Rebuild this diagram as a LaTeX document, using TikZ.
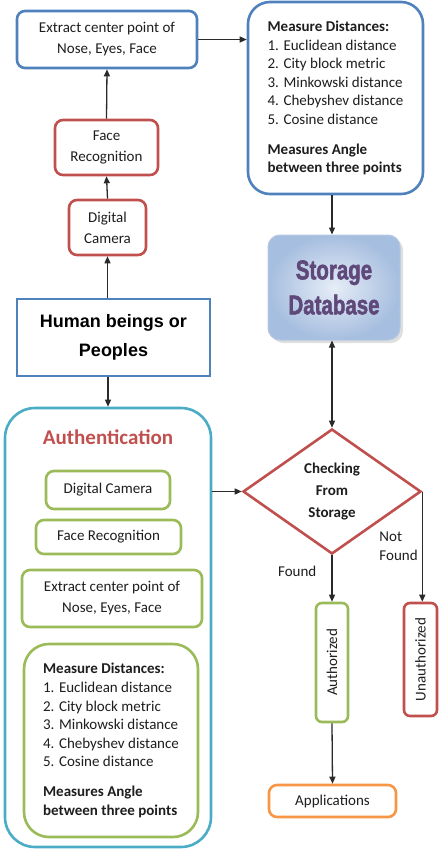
\documentclass[tikz,border=0pt]{standalone}
\usepackage{fontspec}
\setmainfont{Carlito}
\newfontfamily\arialfont{Liberation Sans}
\newfontfamily\dbfont[FakeBold=2.2]{Liberation Sans}
\usetikzlibrary{arrows.meta,shapes.geometric,shadows}

\definecolor{oblue}{HTML}{4F81BD}
\definecolor{ored}{HTML}{C0504D}
\definecolor{ogreen}{HTML}{9BBB59}
\definecolor{oteal}{HTML}{4BACC6}
\definecolor{oorange}{HTML}{F79646}
\definecolor{dbtext}{HTML}{5F497A}
\definecolor{dbedge}{HTML}{B4C8E2}
\definecolor{dbin}{HTML}{E6EDF7}
\definecolor{dbout}{HTML}{A6BEDF}
\definecolor{txt}{HTML}{1E1E1E}
\definecolor{wire}{HTML}{2A2A2A}

\tikzset{
  box/.style={draw, line width=2.6pt, rounded corners=8pt, align=center,
    inner sep=0pt, text=txt, fill=white},
  body/.style={font=\fontsize{15}{21}\selectfont},
  listtext/.style={font=\fontsize{15}{18.6}\selectfont, align=left},
  tip/.tip={Triangle[length=7pt,width=6pt]},
  arr/.style={-tip, line width=1.3pt, draw=wire},
  biarr/.style={tip-tip, line width=1.3pt, draw=wire},
  lbl/.style={font=\fontsize{15}{19}\selectfont, text=txt, inner sep=0pt},
}

\begin{document}
\begin{tikzpicture}[x=1pt,y=-1pt]
\useasboundingbox (0,0) rectangle (439,851);

% enrolment chain
\node[box, draw=oblue, minimum width=180pt, minimum height=57pt, body] (ext) at (107,39.5)
  {Extract center point of\\Nose, Eyes, Face};
\node[box, draw=ored, minimum width=103pt, minimum height=55pt, body] (fr) at (106.5,147.5)
  {Face\\Recognition};
\node[box, draw=ored, minimum width=77pt, minimum height=55pt, body] (dc) at (107.5,227.5)
  {Digital\\Camera};
\node[box, draw=oblue, rounded corners=22pt, minimum width=175pt, minimum height=192pt,
  listtext] (meas) at (335.5,98)
  {\textbf{Measure Distances:}\\1. Euclidean distance\\2. City block metric\\
   3. Minkowski distance\\4. Chebyshev distance\\5. Cosine distance\\[11pt]
   \textbf{Measures Angle}\\\textbf{between three points}};

% database
\node[draw=dbedge, line width=1pt, rounded corners=12pt, minimum width=132pt,
  minimum height=105pt, inner color=dbin, outer color=dbout,
  drop shadow={shadow xshift=3pt, shadow yshift=-3pt, fill=gray!50},
  align=center, text=dbtext,
  font=\dbfont\bfseries\fontsize{25}{35}\selectfont] (db) at (334,287.5)
  {\scalebox{0.82}[1.08]{Storage}\\\scalebox{0.82}[1.08]{Database}};

% people
\node[draw=oblue, line width=2.6pt, fill=white, minimum width=193pt, minimum height=77pt,
  align=center, text=black, font=\arialfont\bfseries\fontsize{18}{29.5}\selectfont]
  (hum) at (113.5,337.5) {Human beings or\\Peoples};

% authentication panel
\node[draw=oteal, line width=2.6pt, rounded corners=30pt, minimum width=206pt,
  minimum height=439pt] (auth) at (108,627.5) {};
\node[text=ored, font=\bfseries\fontsize{21}{25}\selectfont] (authtitle) at (108,437)
  {Authentication};
\node[box, draw=ogreen, minimum width=124pt, minimum height=38pt, body] (gdc) at (108,490)
  {Digital Camera};
\node[box, draw=ogreen, minimum width=145pt, minimum height=34pt, body] (gfr) at (108.5,537)
  {Face Recognition};
\node[box, draw=ogreen, minimum width=180pt, minimum height=57pt, body] (gext) at (112,598.5)
  {Extract center point of\\Nose, Eyes, Face};
\node[box, draw=ogreen, rounded corners=25pt, minimum width=174pt, minimum height=193pt,
  listtext] (gmeas) at (111,740.5)
  {\textbf{Measure Distances:}\\1. Euclidean distance\\2. City block metric\\
   3. Minkowski distance\\4. Chebyshev distance\\5. Cosine distance\\[11pt]
   \textbf{Measures Angle}\\\textbf{between three points}};

% decision and outcomes
\node[draw=ored, line width=2.6pt, fill=white, diamond, aspect=1.4, inner sep=0pt,
  minimum width=178pt, minimum height=125pt, align=center, text=txt,
  font=\bfseries\fontsize{15}{22}\selectfont] (chk) at (332,491.5)
  {Checking\\From\\Storage};
\node[box, draw=ogreen, rounded corners=6pt, rotate=90, minimum width=119pt,
  minimum height=32pt, body] (authz) at (332,662.5) {Authorized};
\node[box, draw=ored, rounded corners=6pt, rotate=90, minimum width=113pt,
  minimum height=33pt, body] (unauth) at (420.5,659.5) {Unauthorized};
\node[box, draw=oorange, minimum width=127pt, minimum height=32pt, body] (apps)
  at (332.5,801) {Applications};

% connectors
\draw[arr] (ext.east) -- (ext.east -| meas.west);
\draw[arr] (fr.north) -- (ext.south);
\draw[arr] (dc.north) -- (fr.south);
\draw[arr] (hum.north -| dc.south) -- (dc.south);
\draw[arr] (hum.south -| auth.north) -- (auth.north);
\draw[arr] (meas.south -| chk.north) -- (db.north -| chk.north);
\draw[biarr] (db.south -| chk.north) -- (chk.north);
\draw[arr] (auth.east |- chk.west) -- (chk.west);
\draw[arr] (chk.south) -- node[lbl, pos=0.35, left=15pt] {Found} (authz.east);
\draw[arr] (chk.east) -- node[lbl, pos=0.5, left=4pt, align=left] {Not\\Found}
  (chk.east |- unauth.east);
\draw[arr] (authz.west) -- (apps.north);
\end{tikzpicture}
\end{document}
